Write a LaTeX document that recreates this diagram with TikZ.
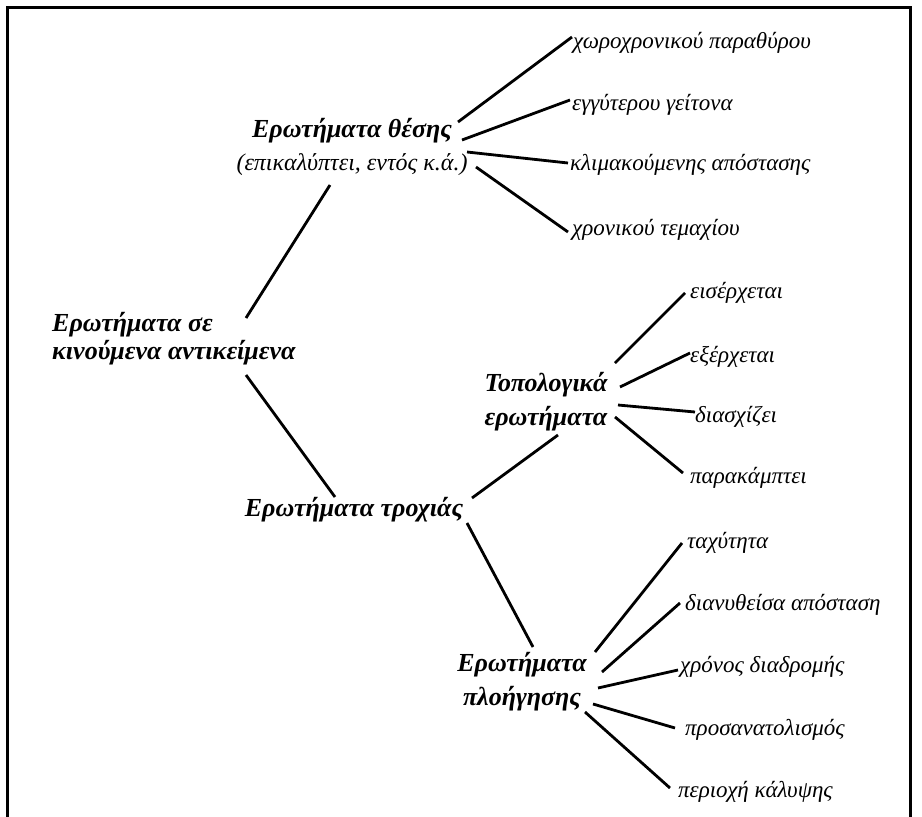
\documentclass[tikz,border=0pt]{standalone}
\usepackage{fontspec}
\setmainfont{Liberation Serif}
\begin{document}
\begin{tikzpicture}[x=1pt,y=-1pt,
  edge/.style={line width=2.8pt},
  frame/.style={line width=3pt},
  leaf/.style={font=\fontsize{23}{26}\selectfont\itshape, inner sep=0pt, anchor=west},
  cat/.style={font=\fontsize{26}{34}\selectfont\bfseries\itshape, inner sep=0pt, align=center}
]
\useasboundingbox (0,0) rectangle (922,817);
\draw[frame] (7,817) -- (7,7) -- (910,7) -- (910,817);

% category nodes
\node[cat, align=left, anchor=west, font=\fontsize{26}{28}\selectfont\bfseries\itshape] (root) at (52,339) {Ερωτήματα σε\\κινούμενα αντικείμενα};
\node[cat, font=\fontsize{26}{33}\selectfont\bfseries\itshape] (thesi) at (352,147) {Ερωτήματα θέσης\\{\fontsize{24}{26}\selectfont\mdseries\itshape (επικαλύπτει, εντός κ.ά.)}};
\node[cat] (troxia) at (354,510) {Ερωτήματα τροχιάς};
\node[cat] (topo) at (546,402) {Τοπολογικά\\ερωτήματα};
\node[cat] (nav) at (522,682) {Ερωτήματα\\πλοήγησης};

% leaves of thesi
\node[leaf] (l1) at (573,43) {χωροχρονικού παραθύρου};
\node[leaf] (l2) at (572,105) {εγγύτερου γείτονα};
\node[leaf] (l3) at (570,165) {κλιμακούμενης απόστασης};
\node[leaf] (l4) at (572,230) {χρονικού τεμαχίου};

% leaves of topo
\node[leaf] (t1) at (690,293) {εισέρχεται};
\node[leaf] (t2) at (690,357) {εξέρχεται};
\node[leaf] (t3) at (695,417) {διασχίζει};
\node[leaf] (t4) at (690,478) {παρακάμπτει};

% leaves of nav
\node[leaf] (n1) at (687,543) {ταχύτητα};
\node[leaf] (n2) at (685,605) {διανυθείσα απόσταση};
\node[leaf] (n3) at (680,667) {χρόνος διαδρομής};
\node[leaf] (n4) at (685,730) {προσανατολισμός};
\node[leaf] (n5) at (678,792) {περιοχή κάλυψης};

% main tree
\draw[edge] ([shift={(194,-21)}]root.west) -- ([shift={(-22,38)}]thesi.center);
\draw[edge] ([shift={(194,36)}]root.west) -- ([shift={(-19,-13)}]troxia.center);
\draw[edge] ([shift={(118,-12)}]troxia.center) -- ([shift={(12,33)}]topo.center);
\draw[edge] ([shift={(113,13)}]troxia.center) -- ([shift={(11,-35)}]nav.center);

% thesi fan
\draw[edge] ([shift={(106,-25)}]thesi.center) -- ([shift={(-1,-6)}]l1.west);
\draw[edge] ([shift={(110,-7)}]thesi.center) -- ([shift={(-2,-5)}]l2.west);
\draw[edge] ([shift={(115,5)}]thesi.center) -- ([shift={(-2,-2)}]l3.west);
\draw[edge] ([shift={(124,20)}]thesi.center) -- ([shift={(-4,2)}]l4.west);

% topo fan
\draw[edge] ([shift={(69,-39)}]topo.center) -- ([shift={(-5,0)}]t1.west);
\draw[edge] ([shift={(74,-15)}]topo.center) -- ([shift={(0,-4)}]t2.west);
\draw[edge] ([shift={(72,3)}]topo.center) -- ([shift={(0,-5)}]t3.west);
\draw[edge] ([shift={(69,15)}]topo.center) -- ([shift={(-7,-5)}]t4.west);

% nav fan
\draw[edge] ([shift={(73,-30)}]nav.center) -- ([shift={(-5,0)}]n1.west);
\draw[edge] ([shift={(80,-10)}]nav.center) -- ([shift={(-5,-2)}]n2.west);
\draw[edge] ([shift={(76,6)}]nav.center) -- ([shift={(-2,3)}]n3.west);
\draw[edge] ([shift={(71,22)}]nav.center) -- ([shift={(-10,-2)}]n4.west);
\draw[edge] ([shift={(63,30)}]nav.center) -- ([shift={(-8,-4)}]n5.west);
\end{tikzpicture}
\end{document}
